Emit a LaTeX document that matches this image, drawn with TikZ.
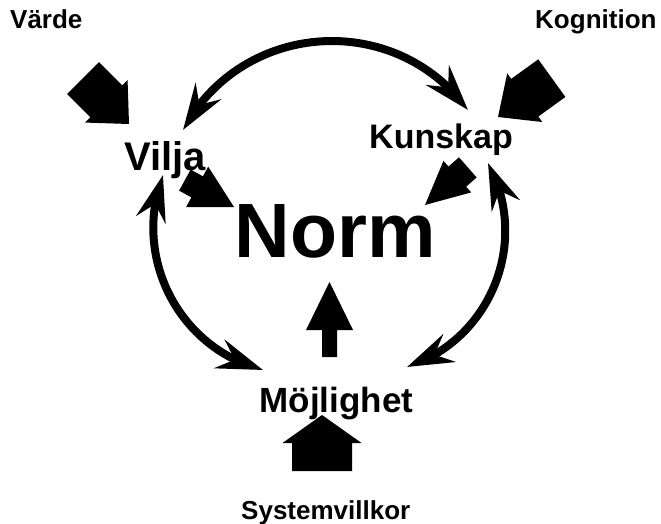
\documentclass[tikz,border=0pt]{standalone}
\usepackage{fontspec}
\setmainfont{Liberation Sans}
\usetikzlibrary{arrows.meta,bending}

% Block arrow: #1 tip coordinate, #2 direction (degrees), #3 head length,
% #4 head half-width, #5 shaft half-width, #6 shaft length
\newcommand\blockarrow[6]{%
  \fill[shift={(#1)}, rotate=#2, x=1pt, y=1pt]
    (0,0) -- (-#3,#4) -- (-#3,#5) -- ({-#3-#6},#5) -- ({-#3-#6},-#5)
    -- (-#3,-#5) -- (-#3,-#4) -- cycle;}

\begin{document}
\begin{tikzpicture}[x=1pt,y=-1pt,
  lbl/.style={anchor=base west, inner sep=0pt, font=\bfseries},
  cyclehead/.style={Stealth[length=46pt,width=30pt,inset=16pt]},
  cyclearrow/.style={line width=8pt, {Stealth[length=46pt,width=30pt,inset=16pt]}-{Stealth[length=46pt,width=30pt,inset=16pt]}},
]
\useasboundingbox (0,0) rectangle (661,524);

% end points of the three curved arrows
\coordinate (vTop)   at (183,130);
\coordinate (kTop)   at (468,110);
\coordinate (vLow)   at (163,175);
\coordinate (mLeft)  at (263,370);
\coordinate (kLow)   at (488,163);
\coordinate (mRight) at (407,367);

\draw[cyclearrow] (vTop) .. controls +(58.7,-109.4) and +(-73.5,-100.1) .. (kTop);
\draw[cyclearrow] (vLow) .. controls +(-31.1,81.9) and +(-84.8,-21.9) .. (mLeft);
\draw[cyclearrow] (kLow) .. controls +(42.3,78.2) and +(84.5,-27.8) .. (mRight);

% tips of the block arrows
\coordinate (vardeTip) at (129,124);
\coordinate (kognTip)  at (498,117);
\coordinate (viljaTip) at (234,207);
\coordinate (kunskTip) at (425,205);
\coordinate (normTip)  at (329.5,282);
\coordinate (mojlTip)  at (322,415);

\blockarrow{vardeTip}{-45}{32}{30}{22.6}{33}
\blockarrow{kognTip}{215.8}{33}{30}{23.2}{33.4}
\blockarrow{viljaTip}{-28.7}{42}{23}{12}{14}
\blockarrow{kunskTip}{221.3}{43}{21}{13.4}{14}
\blockarrow{normTip}{90}{48}{23.5}{7.5}{27}
\blockarrow{mojlTip}{90}{28}{39.5}{30}{28}

% labels
\node[lbl] (varde) at (10,29)   {\fontsize{26}{26}\selectfont Värde};
\node[lbl] (kogn)  at (535,29)  {\fontsize{26}{26}\selectfont Kognition};
\node[lbl] (vilja) at (124,170) {\fontsize{40}{40}\selectfont Vilja};
\node[lbl] (kunsk) at (369,148) {\fontsize{34}{34}\selectfont Kunskap};
\node[lbl] (norm)  at (234.5,257) {\fontsize{77}{77}\selectfont Norm};
\node[lbl] (mojl)  at (259.5,412) {\fontsize{35}{35}\selectfont Möjlighet};
\node[lbl] (sysv)  at (241,519) {\fontsize{26}{26}\selectfont Systemvillkor};
\end{tikzpicture}
\end{document}
